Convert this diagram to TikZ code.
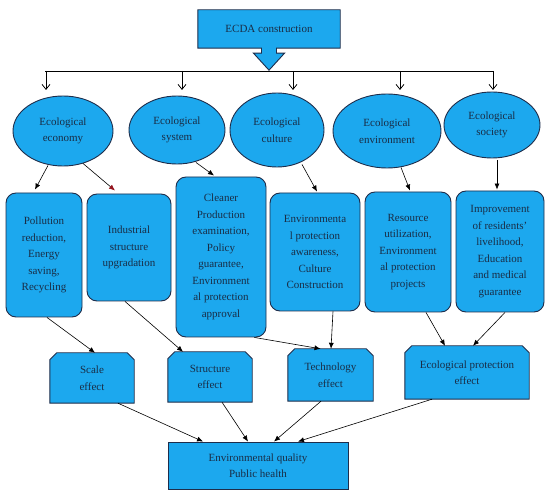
\documentclass[tikz,border=0pt]{standalone}
\usepackage{fontspec}
\setmainfont{Liberation Serif}
\usetikzlibrary{arrows.meta,shapes.geometric,backgrounds}
\definecolor{boxfill}{RGB}{28,168,238}
\definecolor{boxline}{RGB}{30,45,75}
\definecolor{txt}{RGB}{25,45,70}
\definecolor{redtip}{RGB}{150,20,30}
\newcommand\chamfbox[1]{\draw[effshape] (#1.south west) -- ([yshift=-7pt]#1.north west) -- ([xshift=7pt]#1.north west) -- ([xshift=-7pt]#1.north east) -- ([yshift=-7pt]#1.north east) -- (#1.south east) -- cycle;}
\begin{document}
\begin{tikzpicture}[x=1pt,y=-1pt,
  lbl/.style={text=txt,font=\fontsize{11}{16.5}\selectfont,align=center,inner sep=1pt},
  base/.style={lbl,fill=boxfill,draw=boxline,line width=0.9pt},
  ell/.style={base,ellipse},
  rbox/.style={base,rectangle,rounded corners=10pt},
  plainbox/.style={base,rectangle},
  ghost/.style={lbl,rectangle},
  effshape/.style={fill=boxfill,draw=boxline,line width=0.9pt},
  conn/.style={line width=0.6pt,-{Latex[length=6pt,width=5pt]}},
  drop/.style={line width=0.8pt,-{Straight Barb[length=5pt,width=8pt]}}]
\useasboundingbox (0,0) rectangle (550,497);

% top callout
\node[ghost,minimum width=142pt,minimum height=38pt] (ecda) at (269,29) {ECDA construction};

% effect boxes (text nodes; shapes drawn on background)
\node[ghost,minimum width=84pt,minimum height=50pt] (scale) at (92,378) {Scale\\effect};
\node[ghost,minimum width=84pt,minimum height=50pt] (structure) at (210,377) {Structure\\effect};
\node[ghost,minimum width=85pt,minimum height=52pt] (tech) at (330.5,375) {Technology\\effect};
\node[ghost,minimum width=124pt,minimum height=53pt] (ecoprot) at (467,372.5) {Ecological protection\\effect};

\begin{scope}[on background layer]
\fill[white] (0,0) rectangle (550,497);
\draw[effshape] (ecda.south west) -- (ecda.north west) -- (ecda.north east) -- (ecda.south east)
  -- ([xshift=7.5pt]ecda.south) -- ++(0,5) -- ++(8,0) -- ++(-15.5,17) -- ++(-15.5,-17) -- ++(8,0) -- ++(0,-5) -- cycle;
\chamfbox{scale}
\chamfbox{structure}
\chamfbox{tech}
\chamfbox{ecoprot}
\end{scope}

% distribution bar
\coordinate (barL) at (45,71);
\coordinate (barR) at (493.5,71);
\draw[line width=0.9pt] (barL) -- (barR);
\foreach \i/\x in {1/46,2/182,3/293,4/400,5/493}{
  \coordinate (d\i) at (\x,71);
  \coordinate (e\i) at (\x,90);
  \draw[drop] (d\i) -- (e\i);
}

% ellipses
\node[ell,minimum width=100pt,minimum height=70pt] (economy) at (63,131) {Ecological\\economy};
\node[ell,minimum width=96pt,minimum height=68pt] (system) at (177,130) {Ecological\\system};
\node[ell,minimum width=94pt,minimum height=74pt] (culture) at (277,130) {Ecological\\culture};
\node[ell,minimum width=108pt,minimum height=74pt] (environment) at (387,131) {Ecological\\environment};
\node[ell,minimum width=96pt,minimum height=66pt] (society) at (492,125) {Ecological\\society};

% rounded boxes
\node[rbox,minimum width=76pt,minimum height=124pt] (box1) at (44,255) {Pollution\\reduction,\\Energy\\saving,\\Recycling};
\node[rbox,minimum width=84pt,minimum height=107pt] (box2) at (129,247.5) {Industrial\\structure\\upgradation};
\node[rbox,minimum width=90pt,minimum height=160pt] (box3) at (221,257) {Cleaner\\Production\\examination,\\Policy\\guarantee,\\Environment\\al protection\\approval};
\node[rbox,minimum width=90pt,minimum height=118pt] (box4) at (315,252) {Environmenta\\l protection\\awareness,\\Culture\\Construction};
\node[rbox,minimum width=86pt,minimum height=120pt] (box5) at (408,252) {Resource\\utilization,\\Environment\\al protection\\projects};
\node[rbox,minimum width=88pt,minimum height=121pt] (box6) at (500,251.5) {Improvement\\of residents'\\livelihood,\\Education\\and medical\\guarantee};

% bottom box
\node[plainbox,minimum width=180pt,minimum height=47pt] (bottom) at (258,465.5) {Environmental quality\\Public health};

% connectors ellipses -> boxes
\draw[conn] ([xshift=-15pt,yshift=1pt]economy.south) -- ([xshift=-9pt,yshift=3pt]box1.north);
\draw[line width=0.6pt,-{Latex[length=6pt,width=5pt,color=redtip]}] ([xshift=20pt,yshift=3pt]economy.south) -- ([xshift=-14pt,yshift=3pt]box2.north);
\draw[conn] ([xshift=19pt,yshift=2pt]system.south) -- ([xshift=-7pt,yshift=1pt]box3.north);
\draw[conn] ([xshift=25pt,yshift=3pt]culture.south) -- ([xshift=2pt,yshift=1pt]box4.north);
\draw[conn] ([xshift=14pt,yshift=1pt]environment.south) -- ([xshift=2pt,yshift=1pt]box5.north);
\draw[conn] ([xshift=5pt,yshift=-2pt]society.south) -- ([xshift=-3pt,yshift=1pt]box6.north);

% boxes -> effects
\draw[conn] ([xshift=3pt]box1.south) -- ([xshift=3pt]scale.north);
\draw[conn] ([xshift=-4pt]box2.south) -- ([xshift=-27pt]structure.north);
\draw[conn] ([xshift=-12pt]box3.south east) -- ([xshift=-10pt]tech.north);
\draw[conn] ([xshift=18pt]box4.south) -- ([xshift=0.5pt]tech.north);
\draw[conn] ([xshift=18pt]box5.south) -- ([xshift=-22pt]ecoprot.north);
\draw[conn] ([xshift=5pt]box6.south) -- ([xshift=6pt]ecoprot.north);

% effects -> bottom
\draw[conn] ([xshift=26pt]scale.south) -- ([xshift=-55pt]bottom.north);
\draw[conn] ([xshift=12pt]structure.south) -- ([xshift=-10pt]bottom.north);
\draw[conn] ([xshift=-9.5pt]tech.south) -- ([xshift=16pt]bottom.north);
\draw[conn] ([xshift=-35pt]ecoprot.south) -- ([xshift=40pt]bottom.north);
\end{tikzpicture}
\end{document}
